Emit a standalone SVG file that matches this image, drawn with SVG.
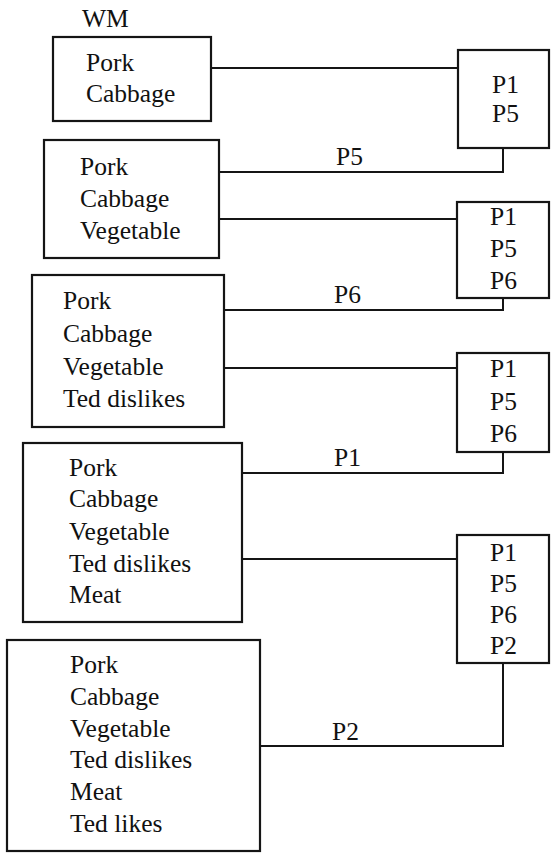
<svg xmlns="http://www.w3.org/2000/svg" width="552" height="856" viewBox="0 0 552 856" font-family="'Liberation Serif', 'DejaVu Serif', 'Times New Roman', serif" font-size="25.5">
<style>
.box{fill:#fff;stroke:#151515;stroke-width:2.2}
.con{fill:none;stroke:#151515;stroke-width:2}
.t{font-family:'Liberation Serif','DejaVu Serif','Times New Roman',serif;font-size:25.5px;fill:#111}
</style>
<rect width="552" height="856" fill="#fff"/>
<g id="connectors">
<path class="con" d="M211,68 H458"/>
<path class="con" d="M503,148 V172 H219"/>
<path class="con" d="M219,219 H457"/>
<path class="con" d="M503,298 V310 H224"/>
<path class="con" d="M224,368 H457"/>
<path class="con" d="M503,452 V473 H242"/>
<path class="con" d="M242,559 H457"/>
<path class="con" d="M503,663 V746 H260"/>
<text class="t" x="336" y="165">P5</text>
<text class="t" x="334" y="303">P6</text>
<text class="t" x="334" y="466">P1</text>
<text class="t" x="332" y="740">P2</text>
</g>
<g id="wm-label"><text class="t" x="82" y="27">WM</text></g>
<g id="wm1">
<rect class="box" x="53" y="37" width="158" height="84"/>
<text class="t" x="86" y="71">Pork</text>
<text class="t" x="86" y="102">Cabbage</text>
</g>
<g id="rules1">
<rect class="box" x="458" y="50" width="91" height="98"/>
<text class="t" x="492" y="93">P1</text>
<text class="t" x="492" y="122">P5</text>
</g>
<g id="wm2">
<rect class="box" x="44" y="140" width="175" height="118"/>
<text class="t" x="80" y="175">Pork</text>
<text class="t" x="80" y="207">Cabbage</text>
<text class="t" x="80" y="239">Vegetable</text>
</g>
<g id="rules2">
<rect class="box" x="457" y="202" width="92" height="96"/>
<text class="t" x="490" y="225">P1</text>
<text class="t" x="490" y="257">P5</text>
<text class="t" x="490" y="289">P6</text>
</g>
<g id="wm3">
<rect class="box" x="32" y="275" width="192" height="152"/>
<text class="t" x="63" y="309">Pork</text>
<text class="t" x="63" y="342">Cabbage</text>
<text class="t" x="63" y="375">Vegetable</text>
<text class="t" x="63" y="407">Ted dislikes</text>
</g>
<g id="rules3">
<rect class="box" x="457" y="353" width="92" height="99"/>
<text class="t" x="490" y="377">P1</text>
<text class="t" x="490" y="410">P5</text>
<text class="t" x="490" y="442">P6</text>
</g>
<g id="wm4">
<rect class="box" x="23" y="443" width="219" height="179"/>
<text class="t" x="69" y="476">Pork</text>
<text class="t" x="69" y="507">Cabbage</text>
<text class="t" x="69" y="540">Vegetable</text>
<text class="t" x="69" y="572">Ted dislikes</text>
<text class="t" x="69" y="603">Meat</text>
</g>
<g id="rules4">
<rect class="box" x="457" y="535" width="92" height="128"/>
<text class="t" x="490" y="561">P1</text>
<text class="t" x="490" y="592">P5</text>
<text class="t" x="490" y="623">P6</text>
<text class="t" x="490" y="654">P2</text>
</g>
<g id="wm5">
<rect class="box" x="7" y="640" width="253" height="211"/>
<text class="t" x="70" y="673">Pork</text>
<text class="t" x="70" y="705">Cabbage</text>
<text class="t" x="70" y="737">Vegetable</text>
<text class="t" x="70" y="768">Ted dislikes</text>
<text class="t" x="70" y="800">Meat</text>
<text class="t" x="70" y="832">Ted likes</text>
</g>
</svg>
